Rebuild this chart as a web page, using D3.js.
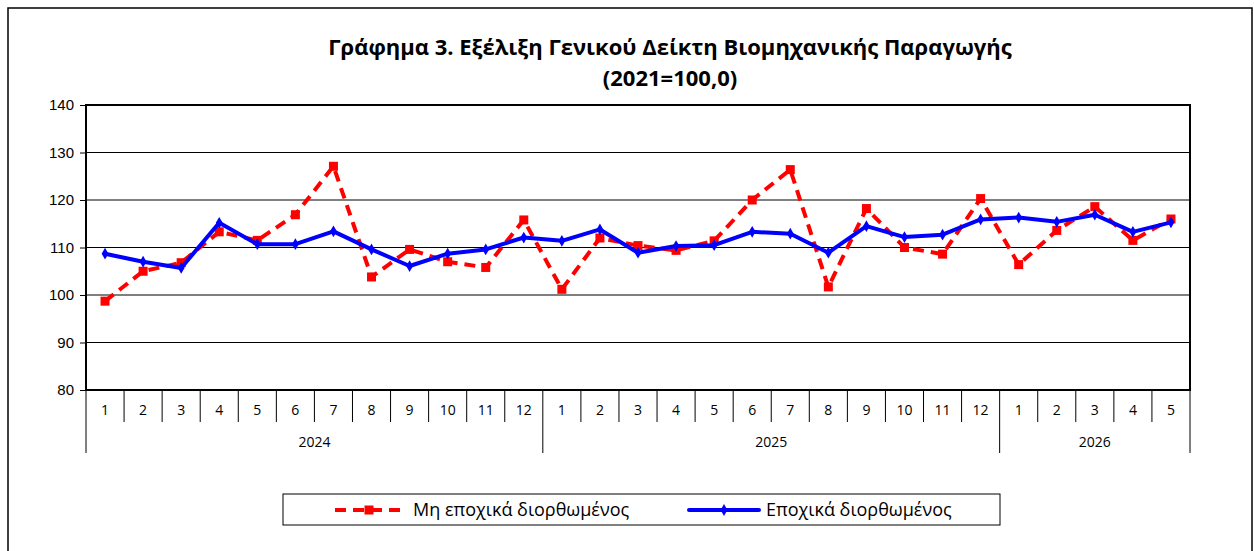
<!DOCTYPE html>
<html>
<head>
<meta charset="utf-8">
<script src="https://cdn.jsdelivr.net/npm/d3@7"></script>
<style>
  body { margin: 0; background: #fff; }
  svg { display: block; }
</style>
</head>
<body>
<script>
// data
let monthLabels = ['1','2','3','4','5','6','7','8','9','10','11','12',
                   '1','2','3','4','5','6','7','8','9','10','11','12',
                   '1','2','3','4','5'];
let yearLabels = ['2024', '2025', '2026'];
let yearCounts = [12, 12, 5];

// Μη εποχικά διορθωμένος
let nsaValues = [98.7, 105.0, 106.8, 113.3, 111.5, 116.9, 127.1, 103.8, 109.6, 107.0, 105.8, 115.8,
                 101.2, 112.0, 110.4, 109.4, 111.4, 120.0, 126.4, 101.7, 118.2, 110.0, 108.6, 120.3,
                 106.4, 113.6, 118.6, 111.5, 116.0];
// Εποχικά διορθωμένος
let saValues = [108.7, 107.0, 105.7, 115.2, 110.7, 110.7, 113.4, 109.6, 106.1, 108.7, 109.6, 112.1,
                111.4, 113.8, 108.9, 110.3, 110.5, 113.3, 112.9, 108.9, 114.5, 112.2, 112.7, 115.9,
                116.3, 115.4, 116.9, 113.3, 115.3];

let yTicks = [80, 90, 100, 110, 120, 130, 140];

let titleLines = ['Γράφημα 3. Εξέλιξη Γενικού Δείκτη Βιομηχανικής Παραγωγής', '(2021=100,0)'];
let legendNames = ['Μη εποχικά διορθωμένος', 'Εποχικά διορθωμένος'];

let w = 1254, h = 551;
let plotL = 86, plotR = 1190, plotT = 105, plotB = 390;

let svg = d3.select('body').append('svg')
  .attr('width', w)
  .attr('height', h);

// outer frame
svg.append('rect')
  .attr('x', 8).attr('y', 8)
  .attr('width', 1244).attr('height', 560)
  .attr('fill', 'none')
  .attr('stroke', '#000')
  .attr('stroke-width', 1.5);

// title
svg.selectAll('.title')
  .data(titleLines)
  .enter()
  .append('text')
  .attr('class', 'title')
  .attr('x', 670)
  .attr('y', (d, i) => 55 + i * 31)
  .attr('text-anchor', 'middle')
  .style('font-family', '"Liberation Sans Narrow", "Open Sans", sans-serif')
  .style('font-weight', 'bold')
  .style('font-size', '22px')
  .text(d => d);

let idx = d3.range(monthLabels.length);

let xScale = d3.scaleBand()
  .domain(idx)
  .range([plotL, plotR]);

let yScale = d3.scaleLinear()
  .domain([80, 140])
  .range([plotB, plotT]);

// grid lines
svg.selectAll('.grid')
  .data(yTicks.slice(1, -1))
  .enter()
  .append('line')
  .attr('x1', plotL).attr('x2', plotR)
  .attr('y1', d => yScale(d)).attr('y2', d => yScale(d))
  .attr('stroke', '#000')
  .attr('stroke-width', 1);

// y axis
let yAxis = d3.axisLeft(yScale)
  .tickValues(yTicks)
  .tickSize(6)
  .tickPadding(6);

let gy = svg.append('g')
  .attr('transform', 'translate(' + plotL + ',0)')
  .call(yAxis);
gy.select('.domain').remove();
gy.selectAll('line').attr('stroke', '#000');
gy.selectAll('text')
  .style('font-family', '"Liberation Sans", Arial, sans-serif')
  .style('font-size', '15px')
  .attr('fill', '#000');

// plot border
svg.append('rect')
  .attr('x', plotL).attr('y', plotT)
  .attr('width', plotR - plotL).attr('height', plotB - plotT)
  .attr('fill', 'none')
  .attr('stroke', '#000')
  .attr('stroke-width', 2);

// category axis: month ticks
let monthEdges = idx.concat([monthLabels.length]);
let yearStarts = [0];
yearCounts.forEach((c, i) => yearStarts.push(yearStarts[i] + c));

let edgeX = i => i < monthLabels.length ? xScale(i) : plotR;

svg.selectAll('.mtick')
  .data(monthEdges)
  .enter()
  .append('line')
  .attr('x1', d => edgeX(d)).attr('x2', d => edgeX(d))
  .attr('y1', plotB)
  .attr('y2', d => yearStarts.includes(d) ? 453 : 422)
  .attr('stroke', '#000')
  .attr('stroke-width', 1);

svg.selectAll('.mlabel')
  .data(monthLabels)
  .enter()
  .append('text')
  .attr('x', (d, i) => xScale(i) + xScale.bandwidth() / 2)
  .attr('y', 415)
  .attr('text-anchor', 'middle')
  .style('font-family', '"Liberation Sans Narrow", "Open Sans", sans-serif')
  .style('font-size', '14px')
  .text(d => d);

svg.selectAll('.ylabel')
  .data(yearLabels)
  .enter()
  .append('text')
  .attr('x', (d, i) => (edgeX(yearStarts[i]) + edgeX(yearStarts[i + 1])) / 2)
  .attr('y', 447)
  .attr('text-anchor', 'middle')
  .style('font-family', '"Liberation Sans Narrow", "Open Sans", sans-serif')
  .style('font-size', '14px')
  .text(d => d);

let cx = i => xScale(i) + xScale.bandwidth() / 2;

let line = d3.line()
  .x((d, i) => cx(i))
  .y(d => yScale(d));

// non seasonally adjusted (red dashed, squares)
svg.append('path')
  .datum(nsaValues)
  .attr('d', line)
  .attr('fill', 'none')
  .attr('stroke', '#FF0000')
  .attr('stroke-width', 4)
  .attr('stroke-dasharray', '11,7');

svg.selectAll('.sq')
  .data(nsaValues)
  .enter()
  .append('rect')
  .attr('x', (d, i) => cx(i) - 4.5)
  .attr('y', d => yScale(d) - 4.5)
  .attr('width', 9).attr('height', 9)
  .attr('fill', '#FF0000');

// seasonally adjusted (blue, diamonds)
svg.append('path')
  .datum(saValues)
  .attr('d', line)
  .attr('fill', 'none')
  .attr('stroke', '#0000FF')
  .attr('stroke-width', 4)
  .attr('stroke-linejoin', 'round');

let diamond = d3.symbol().type(d3.symbolDiamond).size(40);
svg.selectAll('.dm')
  .data(saValues)
  .enter()
  .append('path')
  .attr('d', diamond)
  .attr('transform', (d, i) => 'translate(' + cx(i) + ',' + yScale(d) + ')')
  .attr('fill', '#0000FF');

// legend
svg.append('rect')
  .attr('x', 283).attr('y', 494)
  .attr('width', 717).attr('height', 31)
  .attr('fill', '#fff')
  .attr('stroke', '#000')
  .attr('stroke-width', 1);

let lg = svg.append('g');

lg.append('line')
  .attr('x1', 335).attr('x2', 403)
  .attr('y1', 510).attr('y2', 510)
  .attr('stroke', '#FF0000')
  .attr('stroke-width', 4)
  .attr('stroke-dasharray', '11,7');
lg.append('rect')
  .attr('x', 364.5).attr('y', 505.5)
  .attr('width', 9).attr('height', 9)
  .attr('fill', '#FF0000');

lg.append('line')
  .attr('x1', 689).attr('x2', 759)
  .attr('y1', 510).attr('y2', 510)
  .attr('stroke', '#0000FF')
  .attr('stroke-width', 4)
  .attr('stroke-linecap', 'round');
lg.append('path')
  .attr('d', diamond)
  .attr('transform', 'translate(724,510)')
  .attr('fill', '#0000FF');

lg.selectAll('.ltext')
  .data(legendNames)
  .enter()
  .append('text')
  .attr('x', (d, i) => i === 0 ? 413 : 766)
  .attr('y', 516)
  .style('font-family', '"Liberation Sans Narrow", "Open Sans", sans-serif')
  .style('font-size', '18px')
  .text(d => d);
</script>
</body>
</html>
